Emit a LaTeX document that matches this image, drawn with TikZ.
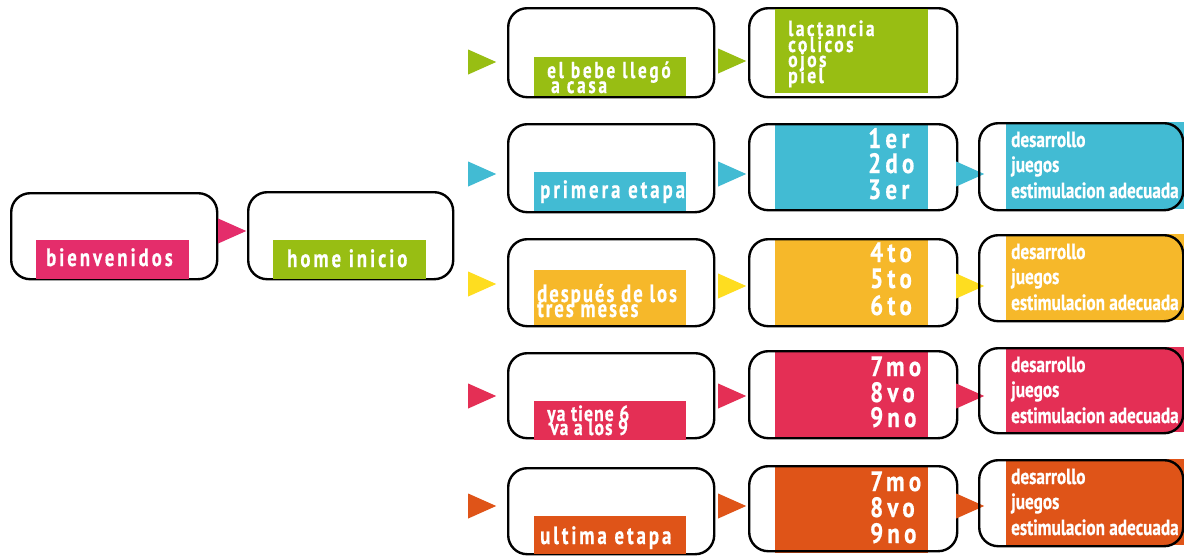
\documentclass[tikz,border=0pt]{standalone}
\usepackage{fontspec}
\setmainfont{PT Sans}
\newfontfamily\labf{PT Sans}[FakeStretch=0.75,LetterSpace=12,FakeBold=0.6]
\newfontfamily\lstf{PT Sans}[FakeStretch=0.8,LetterSpace=11,FakeBold=0.6]
\newfontfamily\labn{PT Sans}[FakeStretch=0.75,LetterSpace=8,FakeBold=0.6]
\newfontfamily\labm{PT Sans}[FakeStretch=0.8,LetterSpace=5,FakeBold=0.6]
\newfontfamily\numf{PT Sans}[FakeStretch=0.82,LetterSpace=15,FakeBold=0.6]
\newfontfamily\cndf{PT Sans}[FakeStretch=0.78,FakeBold=0.6]
\usetikzlibrary{shapes.geometric}
\definecolor{pinkA}{HTML}{E42D6B}
\definecolor{greenC}{HTML}{98BE13}
\definecolor{cyanC}{HTML}{42BBD3}
\definecolor{goldC}{HTML}{F6B82A}
\definecolor{yelC}{HTML}{FEDD20}
\definecolor{redC}{HTML}{E42F55}
\definecolor{orangeC}{HTML}{DF5418}
\tikzset{
  frame/.style={draw=black,line width=2.4pt,rounded corners=19pt,inner sep=0pt,
    minimum width=#1,anchor=north west},
  patch/.style={inner sep=0pt,anchor=north west},
  tri/.style={isosceles triangle,isosceles triangle stretches,shape border rotate=0,
    fill=#1,inner sep=0pt,minimum width=25pt,minimum height=28pt,anchor=west},
  txt/.style={inner sep=0pt,anchor=base west,text=white},
  lab/.style={txt,font=\labf\bfseries\fontsize{25}{25}\selectfont},
  labs/.style={txt,font=\labf\bfseries\fontsize{23}{23}\selectfont},
  lst/.style={txt,font=\lstf\bfseries\fontsize{22}{22}\selectfont},
  labn/.style={txt,font=\labn\bfseries\fontsize{25}{25}\selectfont},
  labm/.style={txt,font=\labm\bfseries\fontsize{22}{22}\selectfont},
  num/.style={txt,font=\numf\bfseries\fontsize{28}{28}\selectfont},
  cnd/.style={txt,font=\cndf\bfseries\fontsize{22}{22}\selectfont},
}
\begin{document}
\begin{tikzpicture}[x=1pt,y=-1pt]
\useasboundingbox (0,0) rectangle (1184,555);
\clip (0,0) rectangle (1184,555);
% ---------- left column ----------
\node[frame=206pt,minimum height=86pt] (b0) at (10,192) {};
\node[patch,fill=pinkA,minimum width=153pt,minimum height=39pt] (l0) at (36,240) {};
\node[lab] (t0) at (46,266) {bienvenidos};
\node[tri=pinkA] (a0) at (218,231) {};
\node[frame=205pt,minimum height=87pt] (b1) at (247,191) {};
\node[patch,fill=greenC,minimum width=153pt,minimum height=39pt] (l1) at (273,240) {};
\node[lab] (t1) at (287,267) {home inicio};
% ---------- row 1 ----------
\node[tri=greenC] (r1a) at (468,62) {};
\node[frame=206pt,minimum height=89pt] (r1b) at (507,7) {};
\node[patch,fill=greenC,minimum width=152pt,minimum height=39pt] (r1l) at (534,57) {};
\node[labs] (r1t1) at (547,78) {el bebe llegó};
\node[labs] (r1t2) at (551,93) {a casa};
\node[tri=greenC] (r1c) at (718,61) {};
\node[frame=208pt,minimum height=89pt] (r1d) at (748,7) {};
\node[patch,fill=greenC,minimum width=153pt,minimum height=84pt] (r1f) at (775,9) {};
\node[lst] (r1n1) at (788,36) {lactancia};
\node[lst] (r1n2) at (788,52) {colicos};
\node[lst] (r1n3) at (788,67) {ojos};
\node[lst] (r1n4) at (788,83) {piel};
% ---------- row 2 ----------
\node[tri=cyanC] (r2a) at (468,174) {};
\node[frame=206pt,minimum height=88pt] (r2b) at (507,123) {};
\node[patch,fill=cyanC,minimum width=152pt,minimum height=39pt] (r2l) at (534,172) {};
\node[lab] (r2t) at (540,198) {primera etapa};
\node[tri=cyanC] (r2c) at (718,174) {};
\node[patch,fill=cyanC,minimum width=153pt,minimum height=87pt] (r2f) at (775,123) {};
\node[frame=208pt,minimum height=86pt] (r2d) at (748,123) {};
\node[num] (r2n1) at (868,148) {1er};
\node[num] (r2n2) at (868,173) {2do};
\node[num] (r2n3) at (868,199) {3er};
\node[tri=cyanC] (r2e) at (956,174) {};
\node[patch,fill=cyanC,minimum width=178pt,minimum height=87pt] (r2g) at (1006,122) {};
\node[frame=204pt,minimum height=87pt] (r2h) at (978,122) {};
\node[cnd] (r2s1) at (1011,147) {desarrollo};
\node[cnd] (r2s2) at (1011,172) {juegos};
\node[cnd] (r2s3) at (1011,198) {estimulacion adecuada};
% ---------- row 3 ----------
\node[tri=yelC] (r3a) at (468,284) {};
\node[frame=206pt,minimum height=87pt] (r3b) at (507,238) {};
\node[patch,fill=goldC,minimum width=152pt,minimum height=55pt] (r3l) at (534,270) {};
\node[labn] (r3t1) at (537,302) {después de los};
\node[labn] (r3t2) at (537,317) {tres meses};
\node[tri=yelC] (r3c) at (718,286) {};
\node[patch,fill=goldC,minimum width=153pt,minimum height=89pt] (r3f) at (775,238) {};
\node[frame=208pt,minimum height=87pt] (r3d) at (748,238) {};
\node[num] (r3n1) at (870,262) {4to};
\node[num] (r3n2) at (870,288) {5to};
\node[num] (r3n3) at (870,315) {6to};
\node[tri=yelC] (r3e) at (956,286) {};
\node[patch,fill=goldC,minimum width=178pt,minimum height=86pt] (r3g) at (1006,234) {};
\node[frame=204pt,minimum height=86pt] (r3h) at (978,234) {};
\node[cnd] (r3s1) at (1011,259) {desarrollo};
\node[cnd] (r3s2) at (1011,284) {juegos};
\node[cnd] (r3s3) at (1011,310) {estimulacion adecuada};
% ---------- row 4 ----------
\node[tri=redC] (r4a) at (468,396) {};
\node[frame=206pt,minimum height=85pt] (r4b) at (507,352) {};
\node[patch,fill=redC,minimum width=152pt,minimum height=39pt] (r4l) at (534,401) {};
\node[labm] (r4t1) at (547,421) {ya tiene 6};
\node[labm] (r4t2) at (550,435) {va a los 9};
\node[tri=redC] (r4c) at (718,396) {};
\node[patch,fill=redC,minimum width=153pt,minimum height=88pt] (r4f) at (775,350) {};
\node[frame=208pt,minimum height=87pt] (r4d) at (748,350) {};
\node[num] (r4n1) at (870,376) {7mo};
\node[num] (r4n2) at (870,402) {8vo};
\node[num] (r4n3) at (870,427) {9no};
\node[tri=redC] (r4e) at (956,396) {};
\node[patch,fill=redC,minimum width=178pt,minimum height=85pt] (r4g) at (1006,347) {};
\node[frame=204pt,minimum height=85pt] (r4h) at (978,347) {};
\node[cnd] (r4s1) at (1011,372) {desarrollo};
\node[cnd] (r4s2) at (1011,397) {juegos};
\node[cnd] (r4s3) at (1011,423) {estimulacion adecuada};
% ---------- row 5 ----------
\node[tri=orangeC] (r5a) at (468,506) {};
\node[frame=206pt,minimum height=86pt] (r5b) at (507,467) {};
\node[patch,fill=orangeC,minimum width=152pt,minimum height=38pt] (r5l) at (534,516) {};
\node[lab] (r5t) at (540,544) {ultima etapa};
\node[tri=orangeC] (r5c) at (718,506) {};
\node[patch,fill=orangeC,minimum width=153pt,minimum height=88pt] (r5f) at (775,465) {};
\node[frame=208pt,minimum height=85pt] (r5d) at (748,465) {};
\node[num] (r5n1) at (870,491) {7mo};
\node[num] (r5n2) at (870,517) {8vo};
\node[num] (r5n3) at (870,543) {9no};
\node[tri=orangeC] (r5e) at (956,506) {};
\node[patch,fill=orangeC,minimum width=178pt,minimum height=86pt] (r5g) at (1006,459) {};
\node[frame=204pt,minimum height=86pt] (r5h) at (978,459) {};
\node[cnd] (r5s1) at (1011,484) {desarrollo};
\node[cnd] (r5s2) at (1011,509) {juegos};
\node[cnd] (r5s3) at (1011,535) {estimulacion adecuada};
\end{tikzpicture}
\end{document}
